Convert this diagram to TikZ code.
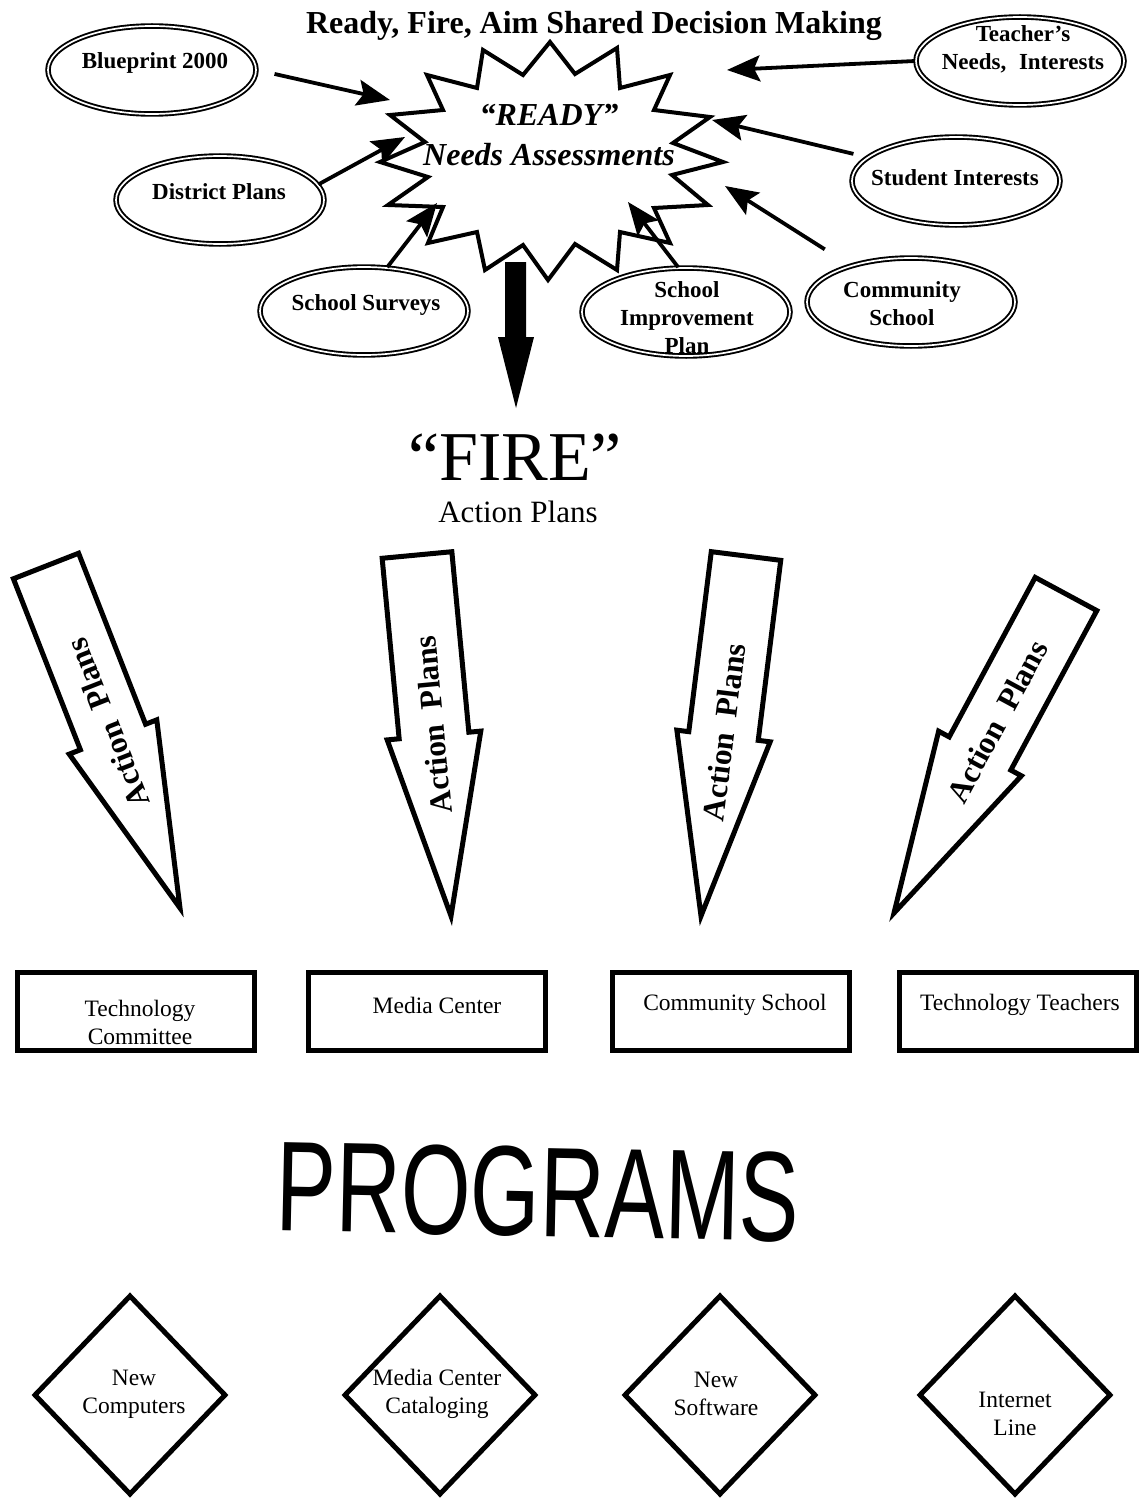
\documentclass[tikz,border=0pt]{standalone}
\usepackage{fontspec}
\setmainfont{Liberation Serif}
\newfontfamily\progfont{Liberation Sans}
\usetikzlibrary{arrows.meta,calc,shapes.geometric}

\tikzset{
  oval/.style={ellipse, draw, line width=1.9pt, double, double distance=1.7pt,
    minimum width=208pt, minimum height=88pt, inner sep=0pt},
  ovaltext/.style={font=\bfseries\fontsize{23}{28}\selectfont, align=center, inner sep=0pt},
  feed/.style={line width=3.8pt, -{Stealth[length=33pt,width=26pt,inset=6pt]}},
  planshape/.style={draw, line width=5pt, fill=white, line join=miter},
  plantext/.style={font=\bfseries\fontsize{31.5}{34}\selectfont, inner sep=0pt},
  planbox/.style={rectangle, draw, line width=5pt, minimum width=237pt, minimum height=78pt, inner sep=0pt},
  boxtext/.style={font=\fontsize{23.5}{28}\selectfont, align=center, inner sep=0pt},
  progdia/.style={diamond, draw, line width=5pt, minimum width=192pt, minimum height=200pt, inner sep=0pt},
}

% hollow "Action Plans" block arrow: #1 name, #2 tail, #3 tip, #4 label position
\newcommand\planarrow[4]{%
  \coordinate (#1-tail) at #2;
  \coordinate (#1-tip) at #3;
  \coordinate (#1-mid) at ($(#1-tail)!0.5!(#1-tip)$);
  \draw[planshape] ($(#1-tail)!35pt!90:(#1-tip)$) -- ($(#1-mid)!35pt!90:(#1-tip)$)
    -- ($(#1-mid)!47pt!90:(#1-tip)$) -- (#1-tip) -- ($(#1-mid)!47pt!-90:(#1-tip)$)
    -- ($(#1-mid)!35pt!-90:(#1-tip)$) -- ($(#1-tail)!35pt!-90:(#1-tip)$) -- cycle;
  \path let \p1=($(#1-tip)-(#1-tail)$), \n1={atan2(\y1,\x1)+180} in
    node[plantext, rotate=\n1] (#1-text) at ($(#1-tail)!#4!(#1-tip)$) {Action\hspace{0.5em}Plans};
}

\begin{document}
\begin{tikzpicture}[x=1pt, y=-1pt]
\useasboundingbox (0,0) rectangle (1140,1498);

% title
\node[font=\bfseries\fontsize{32}{38}\selectfont] (title) at (594,26) {Ready, Fire, Aim Shared Decision Making};

% needs-assessment starburst
\draw[line width=4pt, fill=white, line join=miter]
  (550,42) -- (575,74) -- (617,48) -- (620,88) -- (670,75) -- (654,110) -- (710,117)
  -- (673,143) -- (723,162) -- (672,175) -- (708,205) -- (654,208) -- (670,243)
  -- (620,232) -- (617,270) -- (575,244) -- (548,280) -- (523,245) -- (485,270)
  -- (477,232) -- (428,243) -- (443,207) -- (388,205) -- (428,177) -- (380,162)
  -- (425,142) -- (390,115) -- (443,110) -- (427,75) -- (477,88) -- (483,50)
  -- (523,75) -- cycle;
\node[font=\bfseries\itshape\fontsize{32}{40}\selectfont, align=center] (ready) at (549,135)
  {“READY”\\Needs Assessments};

% input sources
\node[oval] (e1) at (152,70) {};
\node[oval] (e2) at (220,200) {};
\node[oval] (e3) at (364,311) {};
\node[oval] (e4) at (686,312) {};
\node[oval] (e5) at (911,302) {};
\node[oval] (e6) at (956,181) {};
\node[oval] (e7) at (1020,61) {};
\node[ovaltext] (t1) at (155,63) {Blueprint 2000};
\node[ovaltext] (t2) at (219,192) {District Plans};
\node[ovaltext] (t3) at (366,305) {School Surveys};
\node[ovaltext] (t4) at (687,318) {School\\Improvement\\Plan};
\node[ovaltext] (t5) at (902,304) {Community\\School};
\node[ovaltext] (t6) at (955,178) {Student Interests};
\node[ovaltext] (t7) at (1023,49) {Teacher’s\\Needs,\hspace{0.3em} Interests};

% arrows into the starburst
\coordinate (r1) at (390,100);
\coordinate (r2) at (405,137);
\coordinate (r3) at (437,203);
\coordinate (r4) at (628,202);
\coordinate (r5) at (725,186);
\coordinate (r6) at (712,120);
\coordinate (r7) at (727,70);
\draw[feed, shorten <=18pt] (e1.east) -- (r1);
\draw[feed] (e2.9) -- (r2);
\draw[feed] (e3.62) -- (r3);
\draw[feed] (e4.100) -- (r4);
\draw[feed, shorten <=30pt] (e5.149) -- (r5);
\draw[feed, shorten <=14pt] (e6.165) -- (r6);
\draw[feed] (e7.west) -- (r7);

% solid arrow down to FIRE
\fill (505,262) -- (526,262) -- (526,337) -- (534,337) -- (516,408) -- (498,337) -- (505,337) -- cycle;
\node[font=\fontsize{70}{80}\selectfont] (fire) at (515,457) {“FIRE”};
\node[font=\fontsize{31}{36}\selectfont] (fireplans) at (518,512) {Action Plans};

% action plan arrows
\planarrow{a1}{(46,566)}{(180,908)}{0.46}
\planarrow{a2}{(417,555)}{(451,916)}{0.47}
\planarrow{a3}{(746,556)}{(701,916)}{0.49}
\planarrow{a4}{(1066,594)}{(894,913)}{0.40}

% responsible groups
\node[planbox] (b1) at (136,1011) {};
\node[planbox] (b2) at (427,1011) {};
\node[planbox] (b3) at (731,1011) {};
\node[planbox] (b4) at (1018,1011) {};
\node[boxtext] (bt1) at (140,1022) {Technology\\Committee};
\node[boxtext] (bt2) at (437,1005) {Media Center};
\node[boxtext] (bt3) at (735,1005) {Community School};
\node[boxtext] (bt4) at (1020,1005) {Technology Teachers};

% programs
\node[font=\progfont\fontsize{128}{130}\selectfont, rotate=-1.2, inner sep=0pt] (programs) at (538,1192)
  {\scalebox{0.7}[1]{PROGRAMS}};

\node[progdia] (d1) at (130,1395) {};
\node[progdia] (d2) at (440,1395) {};
\node[progdia] (d3) at (720,1395) {};
\node[progdia] (d4) at (1015,1395) {};
\node[boxtext] (dt1) at (134,1394) {New\\Computers};
\node[boxtext] (dt2) at (437,1394) {Media Center\\Cataloging};
\node[boxtext] (dt3) at (716,1394) {New\\Software};
\node[boxtext] (dt4) at (1015,1414) {Internet\\Line};
\end{tikzpicture}
\end{document}
